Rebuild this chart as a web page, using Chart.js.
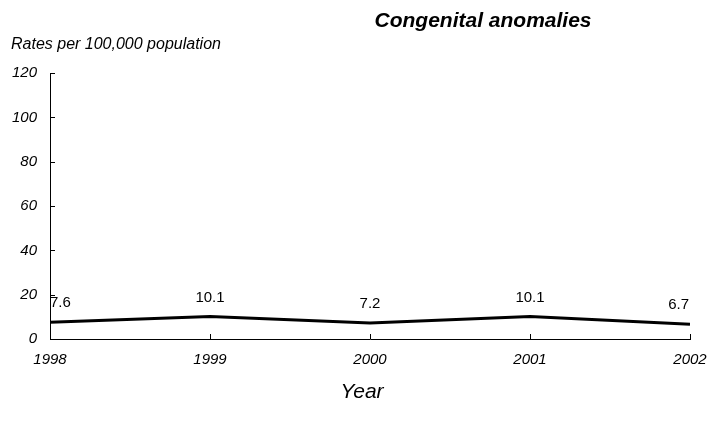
<!DOCTYPE html>
<html lang="en">
<head>
  <meta charset="UTF-8">
  <title>Congenital anomalies</title>
  <script src="https://cdn.jsdelivr.net/npm/chart.js"></script>
  <style>
    html, body { margin: 0; padding: 0; background: #fff; }
    #wrap { width: 709px; height: 429px; }
  </style>
</head>
<body>
  <div id="wrap"><canvas id="chart" width="709" height="429"></canvas></div>
  <script>
    // chart data
    const years = ['1998', '1999', '2000', '2001', '2002'];
    const rates = [7.6, 10.1, 7.2, 10.1, 6.7];
    const yTicks = [0, 20, 40, 60, 80, 100, 120];

    const FONT = "'Liberation Sans', Arial, sans-serif";

    // titles, inner tick marks and value labels
    const decor = {
      id: 'decor',
      afterDraw(chart) {
        const ctx = chart.ctx;
        const xs = chart.scales.x, ys = chart.scales.y;
        const area = chart.chartArea;
        ctx.save();
        ctx.fillStyle = '#000';
        ctx.strokeStyle = '#000';
        ctx.lineWidth = 1;

        // tick marks pointing into the plot
        ctx.beginPath();
        yTicks.forEach(v => {
          const y = Math.round(ys.getPixelForValue(v)) + 0.5;
          ctx.moveTo(area.left, y);
          ctx.lineTo(area.left + 5, y);
        });
        years.forEach((_, i) => {
          const x = Math.round(xs.getPixelForValue(i)) + 0.5;
          ctx.moveTo(x, area.bottom);
          ctx.lineTo(x, area.bottom - 5);
        });
        ctx.stroke();

        // value labels
        ctx.font = '15px ' + FONT;
        ctx.textBaseline = 'middle';
        rates.forEach((v, i) => {
          const x = xs.getPixelForValue(i);
          const y = ys.getPixelForValue(v) - 19;
          if (i === 0) { ctx.textAlign = 'left'; ctx.fillText(v.toFixed(1), x, y); }
          else if (i === rates.length - 1) { ctx.textAlign = 'right'; ctx.fillText(v.toFixed(1), x - 1, y); }
          else { ctx.textAlign = 'center'; ctx.fillText(v.toFixed(1), x, y); }
        });

        // titles
        ctx.textAlign = 'center';
        ctx.font = 'italic bold 21px ' + FONT;
        ctx.fillText('Congenital anomalies', 483, 21);
        ctx.textAlign = 'left';
        ctx.font = 'italic 16px ' + FONT;
        ctx.fillText('Rates per 100,000 population', 11, 45);
        ctx.textAlign = 'center';
        ctx.font = 'italic 21px ' + FONT;
        ctx.fillText('Year', 362, 392);
        ctx.restore();
      }
    };

    new Chart(document.getElementById('chart'), {
      type: 'line',
      data: {
        labels: years,
        datasets: [{
          data: rates,
          borderColor: '#000',
          borderWidth: 3,
          pointRadius: 0,
          tension: 0,
          fill: false
        }]
      },
      options: {
        responsive: false,
        animation: false,
        layout: { padding: { top: 73, right: 19, left: 0, bottom: 0 } },
        plugins: { legend: { display: false }, tooltip: { enabled: false }, title: { display: false } },
        scales: {
          x: {
            offset: false,
            grid: { display: false, drawTicks: false },
            border: { display: true, color: '#000', width: 1 },
            ticks: { color: '#000', font: { family: FONT, size: 15, style: 'italic' }, padding: 12, maxRotation: 0, autoSkip: false },
            afterFit(s) { s.height = 90; s.paddingRight = 0; s.paddingLeft = 0; }
          },
          y: {
            min: 0, max: 120,
            afterBuildTicks(s) { s.ticks = yTicks.map(v => ({ value: v })); },
            grid: { display: false, drawTicks: false },
            border: { display: true, color: '#000', width: 1 },
            ticks: { color: '#000', font: { family: FONT, size: 15, style: 'italic' }, padding: 13 },
            afterFit(s) { s.width = 50; s.paddingTop = 0; s.paddingBottom = 0; }
          }
        }
      },
      plugins: [decor]
    });
  </script>
</body>
</html>
